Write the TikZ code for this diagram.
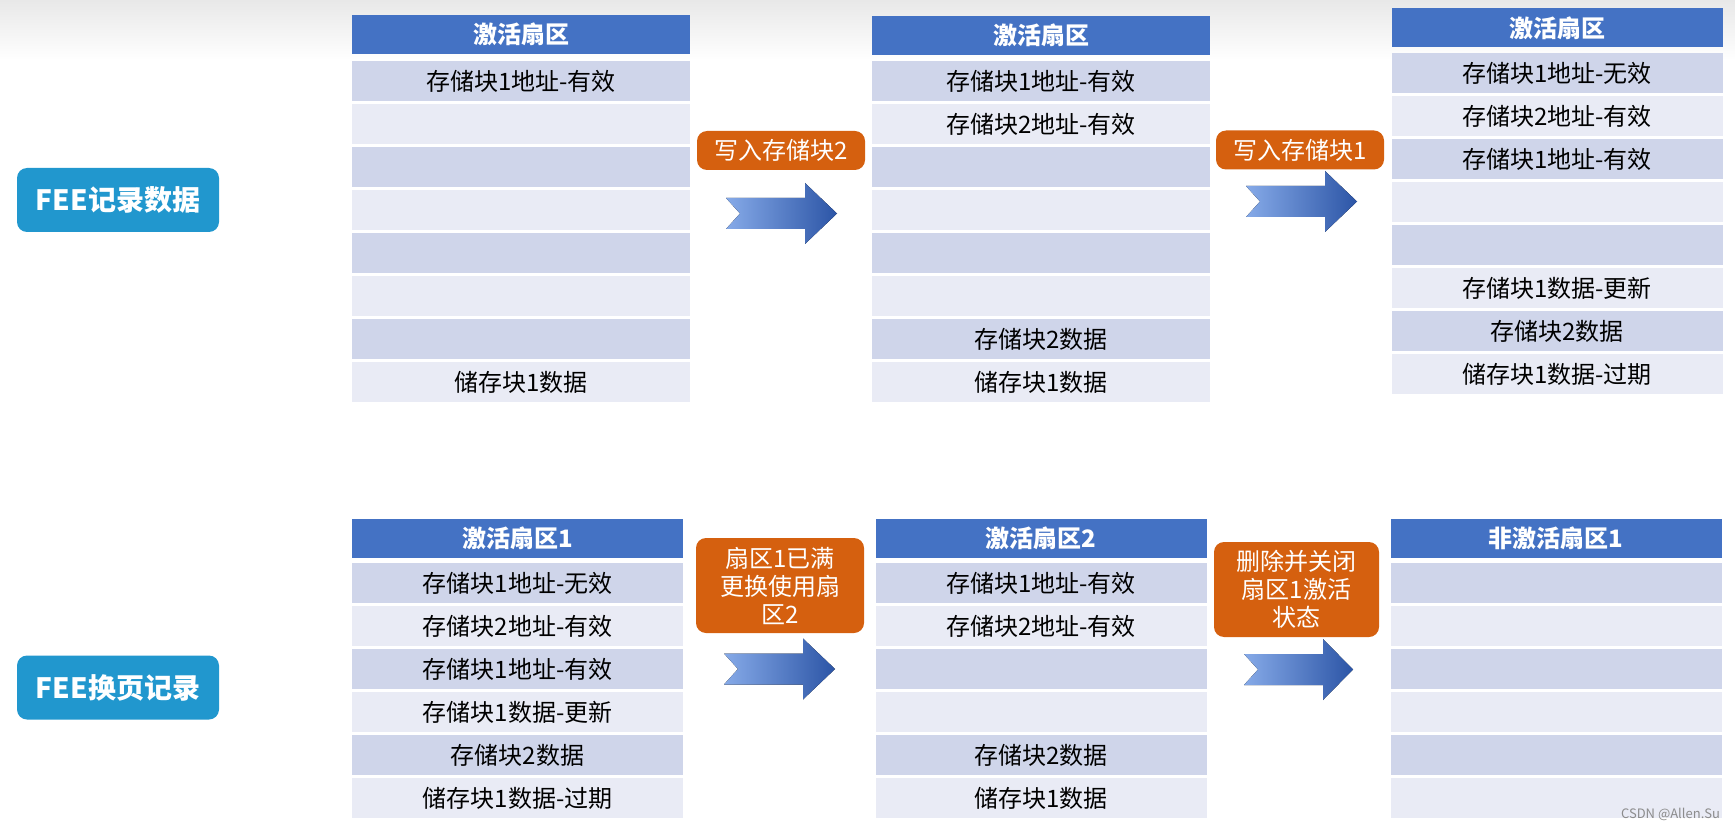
\documentclass[tikz,border=0pt]{standalone}
\usepackage{fontspec}
\setmainfont{Noto Sans CJK SC}
\definecolor{headblue}{HTML}{4472C4}
\definecolor{rowdark}{HTML}{CFD5EA}
\definecolor{rowpale}{HTML}{E9EBF5}
\definecolor{notefill}{HTML}{D5600F}
\definecolor{feefill}{HTML}{2197CE}
\definecolor{arrowlight}{HTML}{86AAE8}
\definecolor{arrowdark}{HTML}{2C55A6}

\begin{document}
\begin{tikzpicture}[x=1pt,y=-1pt,
  every node/.style={inner sep=0pt, outer sep=0pt},
  cellfont/.style={font=\fontsize{24}{28}\selectfont},
  sechead/.style={fill=headblue, text=white, font=\bfseries\fontsize{24}{28}\selectfont, minimum height=39pt},
  cellodd/.style={fill=rowdark, cellfont, minimum height=40pt},
  celleven/.style={fill=rowpale, cellfont, minimum height=40pt},
  wide/.style={minimum width=338pt},
  narrow/.style={minimum width=331pt},
  stepnote/.style={fill=notefill, text=white, rounded corners=10pt, align=center, cellfont, minimum width=168pt},
  feebox/.style={fill=feefill, text=white, rounded corners=10pt, font=\bfseries\fontsize{28}{32}\selectfont, minimum width=202pt, minimum height=64pt},
  blockarrow/.style={left color=arrowlight, right color=arrowdark}]
      \useasboundingbox (0,0) rectangle (1735,829);
      \fill [top color=black!9, bottom color=white] (0,0) rectangle (1735,60);
      % row labels
      \node [feebox] (fee1) at (118,200) {FEE记录数据};
      \node [feebox] (fee2) at (118,687.5) {FEE换页记录};
      % first row, sector 1
      \node [sechead, wide] (rec1) at (521,34.5) {激活扇区};
      \node [cellodd, wide] (rec1-1) at (521,81) {存储块1地址-有效};
      \node [celleven, wide] (rec1-2) at (521,124) {};
      \node [cellodd, wide] (rec1-3) at (521,167) {};
      \node [celleven, wide] (rec1-4) at (521,210) {};
      \node [cellodd, wide] (rec1-5) at (521,253) {};
      \node [celleven, wide] (rec1-6) at (521,296) {};
      \node [cellodd, wide] (rec1-7) at (521,339) {};
      \node [celleven, wide] (rec1-8) at (521,382) {储存块1数据};
      % first row, sector 2
      \node [sechead, wide] (rec2) at (1041,35.5) {激活扇区};
      \node [cellodd, wide] (rec2-1) at (1041,81) {存储块1地址-有效};
      \node [celleven, wide] (rec2-2) at (1041,124) {存储块2地址-有效};
      \node [cellodd, wide] (rec2-3) at (1041,167) {};
      \node [celleven, wide] (rec2-4) at (1041,210) {};
      \node [cellodd, wide] (rec2-5) at (1041,253) {};
      \node [celleven, wide] (rec2-6) at (1041,296) {};
      \node [cellodd, wide] (rec2-7) at (1041,339) {存储块2数据};
      \node [celleven, wide] (rec2-8) at (1041,382) {储存块1数据};
      % first row, sector 3
      \node [sechead, narrow] (rec3) at (1557,28) {激活扇区};
      \node [cellodd, narrow] (rec3-1) at (1557,73) {存储块1地址-无效};
      \node [celleven, narrow] (rec3-2) at (1557,116) {存储块2地址-有效};
      \node [cellodd, narrow] (rec3-3) at (1557,159) {存储块1地址-有效};
      \node [celleven, narrow] (rec3-4) at (1557,202) {};
      \node [cellodd, narrow] (rec3-5) at (1557,245) {};
      \node [celleven, narrow] (rec3-6) at (1557,288) {存储块1数据-更新};
      \node [cellodd, narrow] (rec3-7) at (1557,331) {存储块2数据};
      \node [celleven, narrow] (rec3-8) at (1557,374) {储存块1数据-过期};
      % second row, sector 1
      \node [sechead, narrow] (swp1) at (517.5,538) {激活扇区1};
      \node [cellodd, narrow] (swp1-1) at (517.5,583) {存储块1地址-无效};
      \node [celleven, narrow] (swp1-2) at (517.5,626) {存储块2地址-有效};
      \node [cellodd, narrow] (swp1-3) at (517.5,669) {存储块1地址-有效};
      \node [celleven, narrow] (swp1-4) at (517.5,712) {存储块1数据-更新};
      \node [cellodd, narrow] (swp1-5) at (517.5,755) {存储块2数据};
      \node [celleven, narrow] (swp1-6) at (517.5,798) {储存块1数据-过期};
      % second row, sector 2
      \node [sechead, narrow] (swp2) at (1041,538) {激活扇区2};
      \node [cellodd, narrow] (swp2-1) at (1041,583) {存储块1地址-有效};
      \node [celleven, narrow] (swp2-2) at (1041,626) {存储块2地址-有效};
      \node [cellodd, narrow] (swp2-3) at (1041,669) {};
      \node [celleven, narrow] (swp2-4) at (1041,712) {};
      \node [cellodd, narrow] (swp2-5) at (1041,755) {存储块2数据};
      \node [celleven, narrow] (swp2-6) at (1041,798) {储存块1数据};
      % second row, sector 3
      \node [sechead, narrow] (swp3) at (1556,538) {非激活扇区1};
      \node [cellodd, narrow] (swp3-1) at (1556,583) {};
      \node [celleven, narrow] (swp3-2) at (1556,626) {};
      \node [cellodd, narrow] (swp3-3) at (1556,669) {};
      \node [celleven, narrow] (swp3-4) at (1556,712) {};
      \node [cellodd, narrow] (swp3-5) at (1556,755) {};
      \node [celleven, narrow] (swp3-6) at (1556,798) {};
      % steps
      \node [stepnote, minimum height=39pt] (write2) at (781,150.5) {写入存储块2};
      \node [stepnote, minimum height=39pt] (write1) at (1300,150) {写入存储块1};
      \node [stepnote, minimum height=95pt] (full) at (780,585.5) {扇区1已满\\更换使用扇\\区2};
      \node [stepnote, minimum height=95pt, minimum width=165pt] (close) at (1296.5,589.5) {删除并关闭\\扇区1激活\\状态};
      \fill [blockarrow, shift={(726,213.5)}] (0,-15.5) -- (79,-15.5) -- (79,-30.5) -- (111,0) -- (79,30.5) -- (79,15.5) -- (0,15.5) -- (14,0) -- cycle;
      \fill [blockarrow, shift={(1246,201.5)}] (0,-15.5) -- (79,-15.5) -- (79,-30.5) -- (111,0) -- (79,30.5) -- (79,15.5) -- (0,15.5) -- (14,0) -- cycle;
      \fill [blockarrow, shift={(724,669)}] (0,-15.5) -- (79,-15.5) -- (79,-30.5) -- (111,0) -- (79,30.5) -- (79,15.5) -- (0,15.5) -- (14,0) -- cycle;
      \fill [blockarrow, shift={(1244,669.5)}] (0,-15.5) -- (79,-15.5) -- (79,-30.5) -- (109,0) -- (79,30.5) -- (79,15.5) -- (0,15.5) -- (14,0) -- cycle;
      \node [anchor=base east, text=black!45, font=\fontsize{13}{15}\selectfont] (mark) at (1720,818) {CSDN @Allen.Su};
\end{tikzpicture}
\end{document}
